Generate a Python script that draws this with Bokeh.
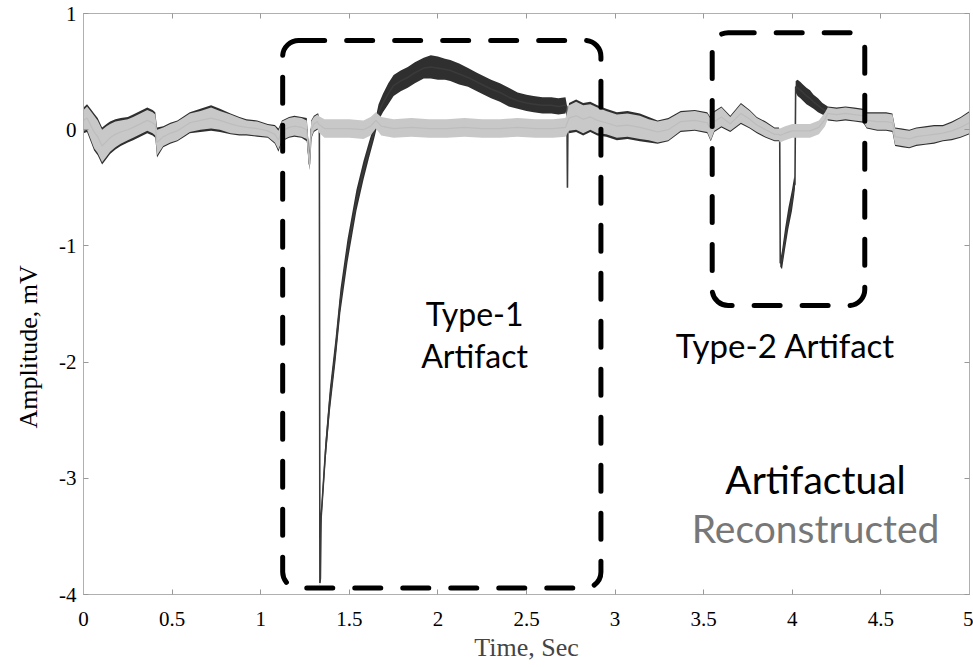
import numpy as np
from bokeh.plotting import figure
from bokeh.models import BoxAnnotation, Label, LinearAxis, FixedTicker, Range1d, Title
from bokeh.embed import file_html
from bokeh.resources import INLINE

# ---------------- data ----------------
# shared baseline wander, before type-1 artifact
base_a_t = [0.00, 0.02, 0.04, 0.06, 0.08, 0.105, 0.13, 0.15, 0.18, 0.21, 0.25, 0.28, 0.32, 0.36, 0.39,
            0.405, 0.415, 0.45, 0.49, 0.53, 0.57, 0.60, 0.66, 0.72, 0.77, 0.83, 0.88, 0.92, 0.98, 1.04,
            1.08, 1.10, 1.12, 1.16, 1.19, 1.23, 1.26, 1.275, 1.285, 1.30, 1.32]
base_a_mv = [0.08, 0.10, 0.04, -0.02, -0.06, -0.14, -0.10, -0.07, -0.04, -0.02, 0.00, 0.02, 0.05, 0.08, 0.06,
             0.04, -0.11, -0.06, -0.03, -0.01, 0.03, 0.06, 0.08, 0.10, 0.08, 0.05, 0.03, 0.02, 0.01, -0.01,
             -0.04, -0.09, -0.01, 0.02, 0.03, 0.02, 0.00, -0.30, 0.00, 0.05, 0.07]
base_a_art_noise = [0.11, 0.12, 0.14, 0.16, 0.16, 0.16, 0.15, 0.14, 0.13, 0.12, 0.11, 0.11, 0.11, 0.11, 0.11,
                    0.11, 0.13, 0.09, 0.09, 0.09, 0.09, 0.09, 0.10, 0.11, 0.10, 0.09, 0.08, 0.07, 0.07, 0.06,
                    0.08, 0.10, 0.09, 0.09, 0.09, 0.09, 0.10, 0.05, 0.08, 0.07, 0.07]
base_a_rec_noise = [0.09, 0.10, 0.12, 0.14, 0.14, 0.14, 0.13, 0.12, 0.11, 0.10, 0.09, 0.09, 0.09, 0.09, 0.09,
                    0.09, 0.11, 0.08, 0.08, 0.08, 0.08, 0.08, 0.08, 0.09, 0.08, 0.08, 0.07, 0.06, 0.06, 0.05,
                    0.07, 0.08, 0.08, 0.08, 0.08, 0.08, 0.08, 0.04, 0.07, 0.06, 0.06]

# shared baseline between the two artifacts
base_b_t = [2.74, 2.78, 2.82, 2.86, 2.90, 2.95, 3.01, 3.07, 3.14, 3.19, 3.24, 3.30, 3.37, 3.45, 3.52,
            3.54, 3.56, 3.60, 3.65, 3.71, 3.76, 3.80, 3.85, 3.90, 3.925]
base_b_mv = [0.10, 0.12, 0.09, 0.11, 0.08, 0.06, 0.03, 0.04, 0.02, 0.00, -0.02, 0.00, 0.07, 0.08, 0.06,
             0.00, 0.07, 0.11, 0.05, 0.14, 0.09, 0.04, 0.00, -0.04, -0.04]
base_b_art_noise = [0.13, 0.14, 0.14, 0.13, 0.13, 0.12, 0.12, 0.12, 0.12, 0.11, 0.10, 0.10, 0.09, 0.09, 0.09,
                    0.10, 0.09, 0.09, 0.07, 0.09, 0.08, 0.07, 0.07, 0.06, 0.06]
base_b_rec_noise = [0.11, 0.12, 0.12, 0.11, 0.11, 0.10, 0.10, 0.10, 0.10, 0.09, 0.09, 0.09, 0.08, 0.08, 0.08,
                    0.09, 0.08, 0.08, 0.06, 0.08, 0.07, 0.06, 0.06, 0.05, 0.05]

# shared baseline after type-2 artifact
base_c_t = [4.20, 4.25, 4.30, 4.35, 4.40, 4.42, 4.48, 4.53, 4.565, 4.58, 4.62, 4.66, 4.70, 4.75, 4.80,
            4.85, 4.90, 4.95, 5.00]
base_c_mv = [0.14, 0.13, 0.14, 0.13, 0.12, 0.08, 0.07, 0.07, 0.06, -0.06, -0.07, -0.08, -0.06, -0.05, -0.04,
             -0.03, -0.01, 0.02, 0.06]
base_c_art_noise = [0.06, 0.06, 0.06, 0.06, 0.06, 0.07, 0.08, 0.08, 0.08, 0.08, 0.08, 0.08, 0.08, 0.08, 0.08,
                    0.07, 0.08, 0.09, 0.10]
base_c_rec_noise = [0.05, 0.05, 0.05, 0.05, 0.05, 0.06, 0.07, 0.07, 0.07, 0.07, 0.07, 0.07, 0.07, 0.07, 0.07,
                    0.06, 0.07, 0.08, 0.09]

# artifactual signal inside the type-1 window
art1_t = [1.325, 1.331, 1.334, 1.337, 1.341, 1.366, 1.39, 1.422, 1.45, 1.49, 1.54, 1.58, 1.61, 1.64,
          1.665, 1.69, 1.72, 1.75, 1.79, 1.83, 1.87, 1.92, 1.96, 2.00, 2.04, 2.07, 2.12, 2.17, 2.22,
          2.26, 2.30, 2.35, 2.40, 2.45, 2.50, 2.54, 2.59, 2.64, 2.68, 2.72, 2.728, 2.731, 2.734]
art1_mv = [0.07, 0.05, -3.90, -3.86, -3.34, -2.76, -2.33, -1.90, -1.47, -1.04, -0.61, -0.35, -0.18, -0.02,
           0.15, 0.23, 0.31, 0.38, 0.42, 0.45, 0.49, 0.53, 0.54, 0.53, 0.52, 0.51, 0.48, 0.45, 0.41,
           0.38, 0.35, 0.32, 0.28, 0.25, 0.23, 0.22, 0.21, 0.21, 0.20, 0.21, 0.20, -0.50, 0.10]
art1_noise = [0.07, 0.02, 0.02, 0.03, 0.06, 0.09, 0.10, 0.10, 0.10, 0.10, 0.09, 0.08, 0.07, 0.06,
              0.07, 0.08, 0.09, 0.09, 0.09, 0.09, 0.09, 0.09, 0.10, 0.10, 0.09, 0.09, 0.09, 0.08, 0.08,
              0.08, 0.08, 0.08, 0.08, 0.07, 0.07, 0.07, 0.07, 0.07, 0.07, 0.07, 0.01, 0.01, 0.05]

# artifactual signal inside the type-2 window
art2_t = [3.929, 3.932, 3.942, 3.96, 3.978, 3.998, 4.011, 4.015, 4.019, 4.03, 4.046, 4.06, 4.08, 4.10,
          4.12, 4.145, 4.17, 4.19]
art2_mv = [-0.06, -1.15, -1.12, -0.93, -0.76, -0.61, -0.48, -0.47, 0.37, 0.36, 0.34, 0.32, 0.29, 0.27,
           0.24, 0.21, 0.18, 0.16]
art2_noise = [0.03, 0.03, 0.08, 0.09, 0.09, 0.09, 0.08, 0.03, 0.05, 0.07, 0.07, 0.07, 0.07, 0.07,
              0.06, 0.06, 0.05, 0.05]

# reconstructed signal inside the two windows
rec1_t = [1.325, 1.36, 1.42, 1.50, 1.58, 1.62, 1.65, 1.68, 1.75, 1.85, 1.95, 2.05, 2.15, 2.25, 2.35,
          2.45, 2.55, 2.65, 2.72, 2.735]
rec1_mv = [0.05, 0.01, 0.01, 0.01, 0.00, 0.03, 0.08, 0.03, 0.01, 0.02, 0.01, 0.01, 0.02, 0.01, 0.01,
           0.02, 0.01, 0.01, 0.02, 0.08]
rec1_noise = [0.07, 0.08, 0.08, 0.08, 0.08, 0.08, 0.07, 0.08, 0.08, 0.08, 0.08, 0.08, 0.08, 0.08, 0.08,
              0.08, 0.08, 0.08, 0.08, 0.10]
rec2_t = [3.93, 3.96, 4.00, 4.05, 4.10, 4.15, 4.185]
rec2_mv = [-0.05, -0.03, -0.01, -0.01, -0.01, 0.02, 0.09]
rec2_noise = [0.06, 0.06, 0.06, 0.06, 0.06, 0.06, 0.06]

x_ticks = [0, 0.5, 1, 1.5, 2, 2.5, 3, 3.5, 4, 4.5, 5]
x_tick_labels = ["0", "0.5", "1", "1.5", "2", "2.5", "3", "3.5", "4", "4.5", "5"]
y_ticks = [-4, -3, -2, -1, 0, 1]
y_tick_labels = ["-4", "-3", "-2", "-1", "0", "1"]

# --------------- assemble series ---------------
art_t = np.array(base_a_t + art1_t + base_b_t + art2_t + base_c_t)
art_mv = np.array(base_a_mv + art1_mv + base_b_mv + art2_mv + base_c_mv)
art_nz = np.array(base_a_art_noise + art1_noise + base_b_art_noise + art2_noise + base_c_art_noise)
rec_t = np.array(base_a_t + rec1_t + base_b_t + rec2_t + base_c_t)
rec_mv = np.array(base_a_mv + rec1_mv + base_b_mv + rec2_mv + base_c_mv)
rec_nz = np.array(base_a_rec_noise + rec1_noise + base_b_rec_noise + rec2_noise + base_c_rec_noise)

SERIF = "Liberation Serif"
SANS = "Lato"
FRAME = "#b0b0b0"

p = figure(width=973, height=667, x_range=Range1d(0, 5), y_range=Range1d(-4, 1),
           output_backend="svg", toolbar_location=None,
           min_border_left=83, min_border_right=4, min_border_top=13, min_border_bottom=73)
p.xgrid.visible = False
p.ygrid.visible = False
p.outline_line_color = FRAME
p.outline_line_width = 1
p.background_fill_color = "white"
p.border_fill_color = "white"

def style_axis(ax, ticks, labels, font_size):
    ax.ticker = FixedTicker(ticks=ticks)
    ax.major_label_overrides = {t: l for t, l in zip(ticks, labels)}
    ax.major_label_text_font = SERIF
    ax.major_label_text_font_size = font_size
    ax.major_label_text_color = "black"
    ax.major_tick_in = 5
    ax.major_tick_out = 0
    ax.minor_tick_in = 0
    ax.minor_tick_out = 0
    ax.major_tick_line_color = "#999999"
    ax.axis_line_color = FRAME

style_axis(p.xaxis[0], x_ticks, x_tick_labels, "21px")
p.xaxis[0].major_label_standoff = 17
p.xaxis[0].axis_label = "Time, Sec"
p.xaxis[0].axis_label_text_font = SERIF
p.xaxis[0].axis_label_text_font_size = "26px"
p.xaxis[0].axis_label_text_font_style = "normal"
p.xaxis[0].axis_label_standoff = 4

style_axis(p.yaxis[0], y_ticks, y_tick_labels, "21px")
p.yaxis[0].major_label_standoff = 7

top = LinearAxis()
style_axis(top, x_ticks, [""] * len(x_ticks), "0px")
top.major_label_standoff = 0
p.add_layout(top, "above")
right = LinearAxis()
style_axis(right, y_ticks, [""] * len(y_ticks), "0px")
right.major_label_standoff = 0
p.add_layout(right, "right")

p.add_layout(Title(text="Amplitude, mV", align="left", offset=166, standoff=24,
                   vertical_align="top",
                   text_font=SERIF, text_font_size="26px", text_font_style="normal",
                   text_color="black"), "left")

# signals: noise band + centre trace
p.varea(x=art_t, y1=art_mv - art_nz, y2=art_mv + art_nz, fill_color="#2f2f2f")
p.line(art_t, art_mv, line_color="#3a3a3a", line_width=1.6)
p.varea(x=rec_t, y1=rec_mv - rec_nz, y2=rec_mv + rec_nz, fill_color="#c8c8c8")
p.line(rec_t, rec_mv, line_color="#bdbdbd", line_width=1.2)

# dashed rounded boxes
for l, r, t, b in [(1.124, 2.92, 0.768, -3.945), (3.548, 4.409, 0.835, -1.513)]:
    p.add_layout(BoxAnnotation(left=l, right=r, top=t, bottom=b, fill_color=None, fill_alpha=0,
                               line_color="black", line_alpha=1.0, line_width=5, line_dash="26 22",
                               line_cap="round", border_radius=16))

# texts
def lab(x, y, text, size, color="black"):
    p.add_layout(Label(x=x, y=y, text=text, text_font=SANS, text_font_size=size,
                       text_color=color, text_align="center", text_baseline="alphabetic"))

lab(2.207, -1.582, "Type-1", "32px")
lab(2.207, -1.943, "Artifact", "32px")
lab(3.962, -1.857, "Type-2 Artifact", "33px")
lab(4.131, -3.002, "Artifactual", "39px")
lab(4.131, -3.432, "Reconstructed", "39px", color="#777777")

open("out.html", "w").write(file_html(p, INLINE))
